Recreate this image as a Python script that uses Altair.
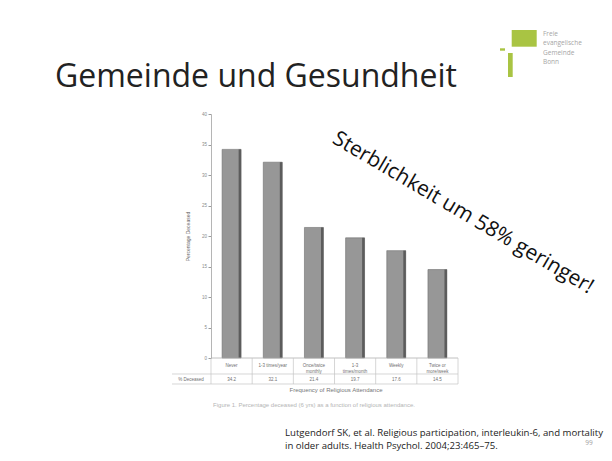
import altair as alt
import pandas as pd

# ---- data ----
categories = ["Never", "1-3 times/year", "Once/twice monthly", "1-3 times/month", "Weekly", "Twice or more/week"]
category_labels = ["Never", "1-3 times/year", "Once/twice\nmonthly", "1-3\ntimes/month", "Weekly", "Twice or\nmore/week"]
pct_deceased = [34.2, 32.1, 21.4, 19.7, 17.6, 14.5]
table_values = ["34.2", "32.1", "21.4", "19.7", "17.6", "14.5"]
y_ticks = [0, 5, 10, 15, 20, 25, 30, 35, 40]

slide_title = "Gemeinde und Gesundheit"
annotation = "Sterblichkeit um 58% geringer!"
citation = ["Lutgendorf SK, et al. Religious participation, interleukin-6, and mortality",
            "in older adults. Health Psychol. 2004;23:465\u201375."]
logo_lines = ["Freie", "evangelische", "Gemeinde", "Bonn"]

df = pd.DataFrame({"cat": categories, "label": category_labels,
                   "pct": pct_deceased, "tval": table_values})

W, H = 247, 244
xenc = alt.X("cat:N", sort=categories, axis=None,
             scale=alt.Scale(paddingInner=0.54, paddingOuter=0.27))
base = alt.Chart(df)

bars = base.mark_bar(color="#979797", stroke="#6e6e6e", strokeWidth=0.6).encode(
    x=xenc,
    y=alt.Y("pct:Q", scale=alt.Scale(domain=[0, 40]),
            axis=alt.Axis(values=y_ticks, tickSize=3, labelFontSize=4.5,
                          labelColor="#8a8a8a", tickColor="#9a9a9a",
                          domainColor="#b5b5b5", grid=False, labelPadding=1.5,
                          labelOverlap=False, labelBound=False, tickCount=9,
                          title="Percentage Deceased", titleFontSize=5,
                          titleColor="#666666", titleFontWeight="normal",
                          titlePadding=11, labelFont="Liberation Sans",
                          titleFont="Liberation Sans")),
)
shadow = base.mark_bar(color="#5c5c5c", width=2.5, xOffset=8.3).encode(x=xenc, y="pct:Q")

cat_text = base.mark_text(fontSize=4.5, lineBreak="\n", lineHeight=6, color="#707070",
                          font="Liberation Sans", baseline="middle").encode(
    x=xenc, y=alt.value(252), text="label:N")
val_text = base.mark_text(fontSize=4.5, color="#707070", font="Liberation Sans",
                          baseline="middle").encode(
    x=xenc, y=alt.value(265.5), text="tval:N")

grid_col = "#c4c4c4"
vlines = base.mark_rule(color=grid_col, strokeWidth=0.7, xOffset=20.6).encode(
    x=xenc, y=alt.value(244), y2=alt.value(270))

one = pd.DataFrame({"k": [0]})
d1 = alt.Chart(one)

hlines = alt.layer(
    d1.mark_rule(color="#b0b0b0", strokeWidth=0.8).encode(x=alt.value(0), x2=alt.value(W), y=alt.value(244)),
    d1.mark_rule(color=grid_col, strokeWidth=0.7).encode(x=alt.value(-39), x2=alt.value(W), y=alt.value(260)),
    d1.mark_rule(color=grid_col, strokeWidth=0.7).encode(x=alt.value(-39), x2=alt.value(W), y=alt.value(270)),
    d1.mark_rule(color=grid_col, strokeWidth=0.7).encode(x=alt.value(0), y=alt.value(244), y2=alt.value(270)),
)

def txt(s, x, y, **kw):
    return alt.Chart(pd.DataFrame({"t": [s]})).mark_text(**kw).encode(
        x=alt.value(x), y=alt.value(y), text="t:N")

row_label = txt("% Deceased", -20, 265.5, fontSize=4.5, color="#707070",
                font="Liberation Sans", baseline="middle")
x_title = txt("Frequency of Religious Attendance", 125, 276, fontSize=6,
              color="#777777", font="Liberation Sans", baseline="middle")
caption = txt("Figure 1.    Percentage deceased (6 yrs) as a function of religious attendance.",
              103, 291, fontSize=6, color="#b5b5b5", font="Liberation Sans", baseline="middle")

title = txt(slide_title, -156, -27.3, fontSize=32, font="Open Sans", color="#222222",
            align="left", baseline="alphabetic")
annot = txt(annotation, 252, 99, fontSize=21, font="Open Sans", color="#111111",
            align="center", baseline="middle", angle=30.5)
cite1 = txt(citation[0], 74, 321.5, fontSize=9.6, font="Open Sans", color="#222222",
            align="left", baseline="alphabetic")
cite2 = txt(citation[1], 74, 334.5, fontSize=9.6, font="Open Sans", color="#222222",
            align="left", baseline="alphabetic")
page_no = txt("99", 378, 328.5, fontSize=6.5, font="Open Sans", color="#a0a0a0",
              align="center", baseline="middle")

green = "#a9c443"
logo = alt.layer(
    d1.mark_rect(color=green).encode(x=alt.value(300.7), x2=alt.value(325.7), y=alt.value(-84), y2=alt.value(-67.3)),
    d1.mark_rect(color=green).encode(x=alt.value(297), x2=alt.value(301.7), y=alt.value(-61), y2=alt.value(-37)),
    d1.mark_rect(color=green).encode(x=alt.value(289), x2=alt.value(294), y=alt.value(-65.7), y2=alt.value(-63.3)),
    *[txt(s, 332, -80.5 + i * 9.5, fontSize=6.5, font="Open Sans", color="#a5a5a5",
          align="left", baseline="middle") for i, s in enumerate(logo_lines)]
)

chart = alt.layer(
    bars, shadow, hlines, vlines, cat_text, val_text, row_label, x_title, caption,
    title, annot, cite1, cite2, page_no, logo
).properties(
    width=W, height=H,
    autosize=alt.AutoSizeParams(type="none"),
    padding={"left": 203, "top": 106, "right": 146, "bottom": 95},
    background="white",
).configure_view(stroke=None)

chart.save("out.html", embed_options={"renderer": "svg", "actions": False})
